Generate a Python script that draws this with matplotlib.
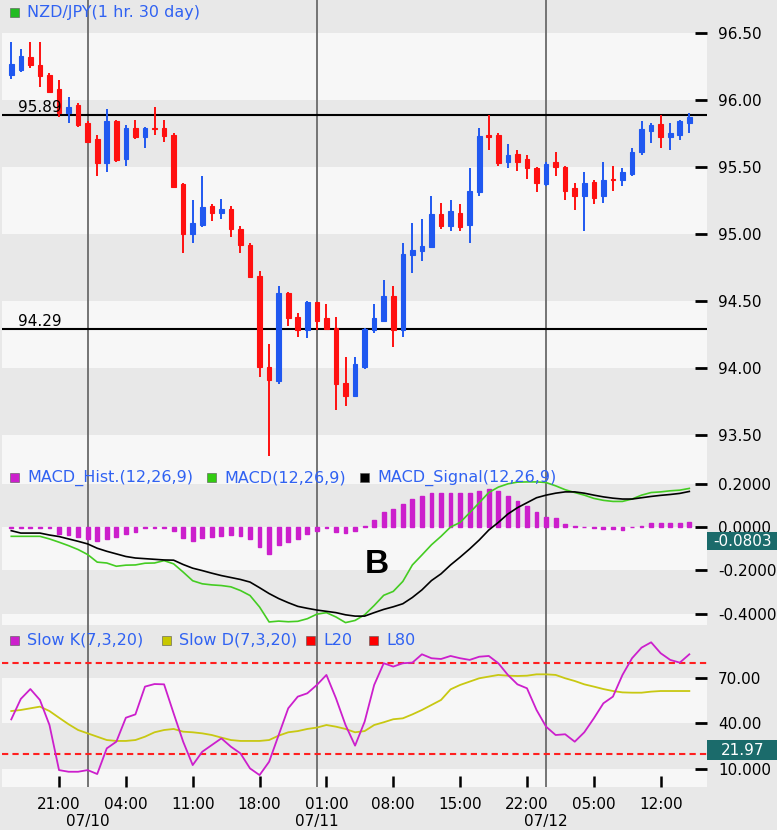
import numpy as np
import matplotlib
matplotlib.use("Agg")
import matplotlib.pyplot as plt
import matplotlib.transforms as mtransforms
from matplotlib.patches import Rectangle

# NZD/JPY hourly candles, 07/09 16:00 .. 07/12 15:00
opens = [96.19, 96.22, 96.32, 96.26, 96.19, 96.08, 95.90, 95.96, 95.83, 95.71,
         95.53, 95.84, 95.56, 95.79, 95.72, 95.79, 95.79, 95.74, 95.37, 95.00,
         95.07, 95.21, 95.16, 95.19, 95.04, 94.92, 94.69, 94.01, 93.90, 94.56,
         94.38, 94.28, 94.49, 94.37, 94.30, 93.89, 93.79, 94.01, 94.28, 94.35,
         94.54, 94.28, 94.84, 94.87, 94.90, 95.15, 95.06, 95.16, 95.07, 95.31,
         95.74, 95.74, 95.54, 95.60, 95.56, 95.49, 95.37, 95.54, 95.50, 95.34,
         95.28, 95.39, 95.28, 95.41, 95.40, 95.45, 95.61, 95.77, 95.82, 95.72,
         95.74, 95.83]
highs = [96.43, 96.38, 96.43, 96.43, 96.20, 96.15, 96.02, 95.98, 95.84, 95.74,
         95.93, 95.85, 95.81, 95.85, 95.80, 95.95, 95.85, 95.75, 95.38, 95.25,
         95.43, 95.22, 95.26, 95.21, 95.06, 94.93, 94.72, 94.18, 94.61, 94.57,
         94.41, 94.50, 94.49, 94.48, 94.38, 94.08, 94.08, 94.30, 94.48, 94.66,
         94.61, 94.93, 95.08, 95.11, 95.28, 95.23, 95.25, 95.22, 95.49, 95.79,
         95.89, 95.75, 95.67, 95.63, 95.59, 95.50, 95.54, 95.61, 95.51, 95.38,
         95.46, 95.40, 95.54, 95.51, 95.49, 95.64, 95.84, 95.83, 95.89, 95.83,
         95.85, 95.90]
lows = [96.16, 96.21, 96.24, 96.10, 96.05, 95.87, 95.83, 95.80, 95.68, 95.43,
        95.46, 95.54, 95.51, 95.71, 95.64, 95.74, 95.69, 95.34, 94.86, 94.93,
        95.05, 95.10, 95.11, 94.98, 94.86, 94.67, 93.93, 93.34, 93.88, 94.31,
        94.23, 94.22, 94.28, 94.28, 93.69, 93.72, 93.78, 93.99, 94.26, 94.34,
        94.16, 94.23, 94.71, 94.80, 94.90, 95.04, 95.02, 95.02, 94.93, 95.28,
        95.63, 95.51, 95.49, 95.47, 95.41, 95.31, 95.36, 95.43, 95.25, 95.18,
        95.02, 95.22, 95.23, 95.32, 95.36, 95.43, 95.59, 95.68, 95.64, 95.63,
        95.70, 95.75]
closes = [96.27, 96.33, 96.26, 96.18, 96.06, 95.90, 95.95, 95.81, 95.69, 95.53,
          95.84, 95.55, 95.79, 95.72, 95.79, 95.78, 95.73, 95.35, 95.00, 95.08,
          95.20, 95.16, 95.19, 95.04, 94.92, 94.68, 94.01, 93.91, 94.56, 94.37,
          94.28, 94.49, 94.35, 94.29, 93.88, 93.79, 94.03, 94.29, 94.37, 94.54,
          94.28, 94.85, 94.88, 94.91, 95.15, 95.06, 95.17, 95.05, 95.32, 95.73,
          95.72, 95.53, 95.59, 95.54, 95.49, 95.38, 95.52, 95.50, 95.32, 95.28,
          95.38, 95.27, 95.40, 95.40, 95.46, 95.61, 95.78, 95.81, 95.72, 95.75,
          95.84, 95.87]
levels = [95.89, 94.29]

macd_hist = [-0.004, -0.004, -0.004, -0.004, -0.004, -0.032, -0.037, -0.046, -0.055, -0.064,
             -0.055, -0.046, -0.032, -0.023, -0.005, -0.003, -0.003, -0.018, -0.051, -0.064,
             -0.051, -0.046, -0.041, -0.037, -0.041, -0.055, -0.092, -0.124, -0.083, -0.069,
             -0.055, -0.032, -0.018, -0.003, -0.023, -0.028, -0.018, 0.005, 0.032, 0.070,
             0.085, 0.106, 0.129, 0.144, 0.159, 0.159, 0.159, 0.159, 0.159, 0.167,
             0.175, 0.167, 0.144, 0.121, 0.098, 0.067, 0.044, 0.040, 0.014, 0.003,
             -0.002, -0.006, -0.009, -0.009, -0.012, -0.002, 0.006, 0.018, 0.018, 0.018,
             0.018, 0.021]
macd_line = [-0.043, -0.043, -0.043, -0.043, -0.055, -0.070, -0.086, -0.104, -0.127, -0.162,
             -0.166, -0.181, -0.176, -0.175, -0.167, -0.166, -0.155, -0.170, -0.208, -0.248,
             -0.262, -0.267, -0.270, -0.276, -0.293, -0.316, -0.369, -0.438, -0.434, -0.437,
             -0.435, -0.423, -0.402, -0.395, -0.415, -0.441, -0.431, -0.405, -0.362, -0.315,
             -0.297, -0.251, -0.175, -0.129, -0.082, -0.043, 0.000, 0.021, 0.066, 0.112,
             0.159, 0.184, 0.199, 0.207, 0.208, 0.208, 0.205, 0.190, 0.172, 0.159,
             0.147, 0.132, 0.123, 0.118, 0.118, 0.129, 0.147, 0.159, 0.162, 0.167,
             0.170, 0.178]
macd_signal = [-0.017, -0.028, -0.028, -0.028, -0.037, -0.044, -0.055, -0.066, -0.078, -0.098,
               -0.112, -0.124, -0.136, -0.143, -0.146, -0.149, -0.152, -0.153, -0.173, -0.190,
               -0.201, -0.213, -0.224, -0.233, -0.242, -0.254, -0.280, -0.307, -0.330, -0.349,
               -0.366, -0.375, -0.383, -0.389, -0.395, -0.405, -0.411, -0.411, -0.395, -0.380,
               -0.368, -0.354, -0.325, -0.290, -0.247, -0.216, -0.175, -0.139, -0.101, -0.060,
               -0.014, 0.021, 0.060, 0.089, 0.112, 0.135, 0.147, 0.156, 0.162, 0.162,
               0.156, 0.147, 0.139, 0.133, 0.129, 0.129, 0.135, 0.141, 0.146, 0.150,
               0.155, 0.164]

slow_k = [42.7, 56.2, 62.7, 55.5, 39.0, 9.3, 8.2, 8.2, 9.3, 6.7,
          23.6, 28.0, 43.8, 46.0, 64.3, 66.0, 65.8, 46.7, 28.0, 12.6,
          21.4, 25.8, 30.2, 24.7, 20.3, 10.4, 6.0, 14.8, 32.4, 50.0,
          57.7, 59.9, 65.4, 72.0, 56.6, 39.0, 25.4, 41.2, 65.4, 79.7,
          77.5, 79.7, 80.1, 85.6, 83.0, 82.5, 84.5, 83.0, 81.9, 84.0,
          84.5, 79.7, 72.0, 65.8, 63.2, 48.9, 37.9, 32.4, 32.9, 28.0,
          34.2, 43.4, 53.3, 57.7, 72.0, 83.0, 90.0, 93.5, 86.3, 81.9,
          80.1, 85.6]
slow_d = [48.2, 48.9, 50.0, 51.1, 48.2, 43.8, 39.5, 35.7, 33.5, 31.3,
          29.1, 28.5, 28.5, 29.1, 31.3, 34.2, 35.7, 36.4, 34.6, 34.2,
          33.5, 32.4, 30.7, 29.1, 28.5, 28.5, 28.5, 29.1, 32.0, 34.2,
          35.0, 36.4, 37.3, 39.0, 37.9, 36.4, 34.2, 35.0, 39.0, 40.8,
          42.8, 43.4, 46.0, 48.9, 52.2, 55.5, 62.5, 65.4, 67.6, 69.8,
          70.9, 72.0, 71.5, 71.3, 71.5, 72.4, 72.4, 72.0, 69.8, 68.0,
          65.8, 64.3, 62.7, 61.4, 60.5, 60.3, 60.3, 61.0, 61.4, 61.4,
          61.4, 61.4]
stoch_levels = [20, 80]

price_ticks = [93.5, 94.0, 94.5, 95.0, 95.5, 96.0, 96.5]
macd_ticks = [-0.4, -0.2, 0.0, 0.2]
macd_tick_labels = ["-0.4000", "-0.2000", "0.0000", "0.2000"]
stoch_ticks = [10, 40, 70]
stoch_tick_labels = ["10.000", "40.00", "70.00"]
time_ticks = [5, 12, 19, 26, 33, 40, 47, 54, 61, 68]
time_labels = ["21:00", "04:00", "11:00", "18:00", "01:00", "08:00",
               "15:00", "22:00", "05:00", "12:00"]
day_starts = [8, 32, 56]
day_labels = ["07/10", "07/11", "07/12"]

DARK = "#e8e8e8"
LIGHT = "#f7f7f7"
BLUE_TXT = "#3062f2"
UP = "#2058f0"
DOWN = "#ff1010"
MAGENTA = "#cc1fcc"
GREEN = "#44cc22"
YELLOW = "#c8c812"
TEAL = "#1b6b6b"
FS = 11
FS_LEG = 11.5

W, H = 777, 830
def fx(px):
    return px / W
def fy(py):
    return 1 - py / H

fig = plt.figure(figsize=(W / 100, H / 100), dpi=100, facecolor=DARK)

def add_panel(top, bottom, ylim, ticks):
    ax = fig.add_axes([fx(2), fy(bottom), fx(707) - fx(2), (bottom - top) / H])
    ax.set_facecolor(LIGHT)
    for s in ax.spines.values():
        s.set_visible(False)
    ax.set_xlim(-0.97, 72.85)
    ax.set_ylim(*ylim)
    # alternate bands between the tick levels
    edges = list(ticks) + [ylim[1]]
    for k in range(0, len(ticks), 2):
        ax.axhspan(edges[k], edges[k + 1], color=DARK, lw=0, zorder=0)
    ax.yaxis.tick_right()
    ax.set_yticks(ticks)
    ax.tick_params(axis="y", direction="in", length=9, width=2, pad=8, labelsize=FS)
    ax.tick_params(axis="x", bottom=False, labelbottom=False)
    for d in day_starts:
        ax.axvline(d, color="#6a6a6a", lw=1.3, zorder=1)
    return ax

x = np.arange(len(closes))

# ---- price panel
ax_p = add_panel(0, 465, (93.276, 96.746), price_ticks)
ax_p.set_yticklabels([f"{v:.2f}" for v in price_ticks])
o = np.array(opens); c = np.array(closes)
cols = np.where(c > o, UP, DOWN)
ax_p.vlines(x, lows, highs, colors=cols, lw=1.4, zorder=3)
ax_p.bar(x, np.abs(c - o), bottom=np.minimum(o, c), width=0.48,
         color=cols, edgecolor=cols, linewidth=0.8, zorder=3)
blend_p = mtransforms.blended_transform_factory(ax_p.transAxes, ax_p.transData)
for lv in levels:
    ax_p.axhline(lv, color="black", lw=1.5, zorder=2)
    ax_p.text(0.022, lv, f"{lv:.2f}", transform=blend_p, fontsize=FS,
              va="bottom", ha="left", zorder=4)

# ---- MACD panel
ax_m = add_panel(465, 625, (-0.452, 0.286), macd_ticks)
ax_m.set_yticklabels(macd_tick_labels)
ax_m.bar(x, macd_hist, width=0.4, color=MAGENTA, edgecolor=MAGENTA,
         linewidth=1.0, zorder=2)
ax_m.plot(x, macd_line, color=GREEN, lw=1.2, zorder=3)
ax_m.plot(x, macd_signal, color="black", lw=1.2, zorder=3)

# ---- stochastic panel
ax_s = add_panel(625, 787, (-1.85, 104.9), stoch_ticks)
ax_s.set_yticklabels(stoch_tick_labels)
for lv in stoch_levels:
    ax_s.axhline(lv, color="#ff2020", lw=1.5, ls=(0, (3, 2)), zorder=2)
ax_s.plot(x, slow_d, color=YELLOW, lw=1.3, zorder=3)
ax_s.plot(x, slow_k, color=MAGENTA, lw=1.3, zorder=3)
ax_s.set_xticks(time_ticks)
ax_s.set_xticklabels(time_labels)
ax_s.tick_params(axis="x", bottom=True, labelbottom=True, direction="in",
                 length=8, width=1.8, pad=7, labelsize=FS)
blend_s = mtransforms.blended_transform_factory(ax_s.transData, ax_s.transAxes)
for d, lab in zip(day_starts, day_labels):
    ax_s.text(d, -0.215, lab, transform=blend_s, ha="center", va="center",
              fontsize=FS)

# ---- legends / title (figure pixel positions)
def legend_item(x0, yc, color, label):
    fig.add_artist(Rectangle((fx(x0), fy(yc + 4.5)), 9 / W, 9 / H,
                             transform=fig.transFigure, facecolor=color,
                             edgecolor="#555555", lw=0.4, zorder=6))
    fig.text(fx(x0 + 17), fy(yc), label, color=BLUE_TXT, fontsize=FS_LEG,
             va="center", ha="left", zorder=6)

legend_item(10, 13, "#22bb22", "NZD/JPY(1 hr. 30 day)")
legend_item(10, 478, MAGENTA, "MACD_Hist.(12,26,9)")
legend_item(207, 478, "#33cc11", "MACD(12,26,9)")
legend_item(360, 478, "black", "MACD_Signal(12,26,9)")
legend_item(10, 640, MAGENTA, "Slow K(7,3,20)")
legend_item(162, 640, "#c8c800", "Slow D(7,3,20)")
legend_item(306, 640, "#ff0000", "L20")
legend_item(369, 640, "#ff0000", "L80")

fig.text(fx(365), fy(573), "B", fontsize=24, fontweight="bold",
         family="Liberation Sans", va="baseline", ha="left", zorder=6)

# current value boxes on the right axis
for y0, y1, txt in [(532, 550, "-0.0803"), (740, 760, "21.97")]:
    fig.add_artist(Rectangle((fx(707), fy(y1)), 72 / W, (y1 - y0) / H,
                             transform=fig.transFigure, facecolor=TEAL,
                             edgecolor="none", zorder=7))
    fig.text(fx(743), fy((y0 + y1) / 2), txt, color="white", fontsize=FS,
             va="center", ha="center", zorder=8)

fig.savefig("out.png", dpi=100, facecolor=DARK)
